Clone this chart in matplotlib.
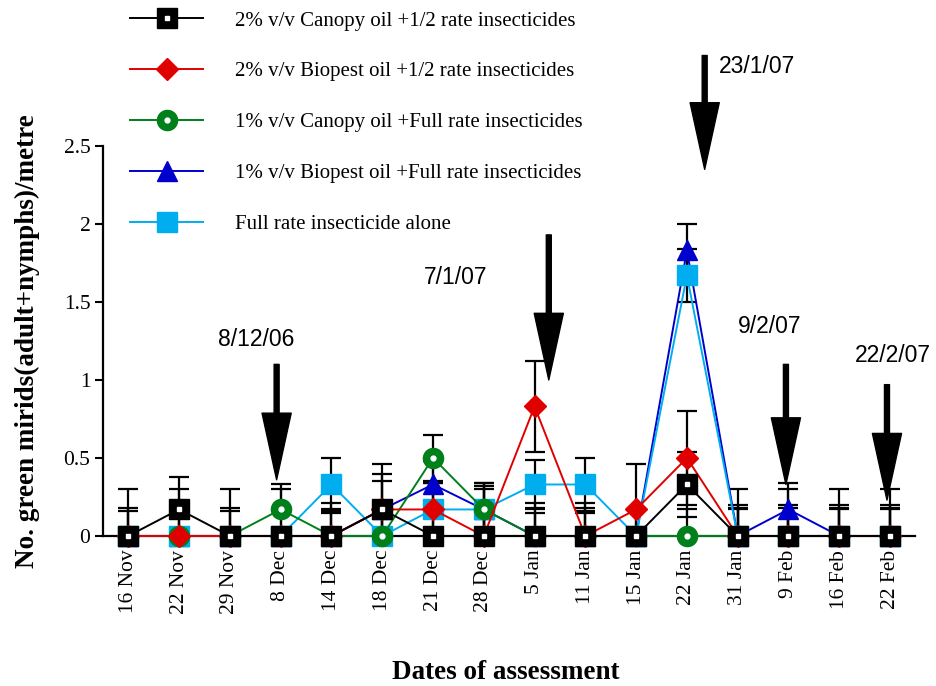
import matplotlib
matplotlib.use("Agg")
import matplotlib.pyplot as plt

# === Data ===
dates = ['16 Nov', '22 Nov', '29 Nov', '8 Dec', '14 Dec', '18 Dec', '21 Dec', '28 Dec',
         '5 Jan', '11 Jan', '15 Jan', '22 Jan', '31 Jan', '9 Feb', '16 Feb', '22 Feb']

canopy2 = [0, .17, 0, 0, 0, .17, 0, 0, 0, 0, 0, .33, 0, 0, 0, 0]
biopest2 = [0, 0, 0, 0, 0, .17, .17, 0, .83, 0, .17, .50, 0, 0, 0, 0]
canopy1 = [0, 0, 0, .17, 0, 0, .50, .17, 0, 0, 0, 0, 0, 0, 0, 0]
biopest1 = [0, 0, 0, 0, 0, .17, .33, .17, 0, 0, 0, 1.83, 0, .17, 0, 0]
full = [0, 0, 0, 0, .33, 0, .17, .17, .33, .33, 0, 1.67, 0, 0, 0, 0]

se_canopy2 = [.30, .21, .30, .30, .21, .29, .20, .30, .21, .21, .17, .21, .30, .30, .30, .30]
se_biopest2 = [.18, .30, .18, 0, .17, .18, .17, .17, .29, .18, .29, .30, .20, .20, .20, .20]
se_canopy1 = [.16, .17, .16, .16, .15, .15, .15, .17, .18, .15, 0, .17, .18, .18, .18, .18]
se_biopest1 = [0, 0, 0, 0, 0, .23, .15, .15, .15, 0, 0, .17, .17, .17, .17, .17]
se_full = [0, 0, 0, 0, .17, 0, .17, .17, .16, .17, 0, .17, 0, 0, 0, 0]

labels = ['2% v/v Canopy oil +1/2 rate insecticides',
          '2% v/v Biopest oil +1/2 rate insecticides',
          '1% v/v Canopy oil +Full rate insecticides',
          '1% v/v Biopest oil +Full rate insecticides',
          'Full rate insecticide alone']

# spray dates (arrow x in date-index units, arrow top / tip, label position)
spray_labels = ['8/12/06', '7/1/07', '23/1/07', '9/2/07', '22/2/07']
spray_x = [2.92, 8.28, 11.35, 12.95, 14.94]
spray_top = [1.10, 1.93, 3.08, 1.10, 0.97]
spray_tip = [0.36, 1.00, 2.35, 0.33, 0.23]
spray_tx = [2.52, 6.45, 12.38, 12.62, 15.06]
spray_ty = [1.26, 1.66, 3.01, 1.34, 1.16]

serif = 'Liberation Serif'
sans = 'Liberation Sans'

fig = plt.figure(figsize=(9.36, 6.86), dpi=100)
ax = fig.add_axes([0.110, 0.2187, 0.868, 0.5685])
x = list(range(len(dates)))

# error bars first (underneath)
for y, se in [(canopy2, se_canopy2), (biopest2, se_biopest2), (canopy1, se_canopy1),
              (biopest1, se_biopest1), (full, se_full)]:
    ax.errorbar(x, y, yerr=se, fmt='none', ecolor='black', elinewidth=1.6,
                capsize=7, capthick=1.6, zorder=2)

c_black = '#000000'; c_red = '#e00000'; c_green = '#00801a'
c_blue = '#0000cc'; c_cyan = '#00aeef'

h_blue, = ax.plot(x, biopest1, color=c_blue, marker='^', ms=14.5, mec=c_blue,
                  lw=1.4, zorder=3, clip_on=False)
h_cyan, = ax.plot(x, full, color=c_cyan, marker='s', ms=14, mec=c_cyan,
                  lw=1.4, zorder=4, clip_on=False)
h_green, = ax.plot(x, canopy1, color=c_green, marker='o', ms=14.5, mec=c_green,
                   lw=1.4, zorder=5, clip_on=False)
d_green, = ax.plot(x, canopy1, ls='none', marker='o', ms=3.5, mfc='white', mec='white',
                   zorder=5.5, clip_on=False)
h_red, = ax.plot(x, biopest2, color=c_red, marker='D', ms=11.5, mec=c_red,
                 lw=1.4, zorder=6, clip_on=False)
h_black, = ax.plot(x, canopy2, color=c_black, marker='s', ms=14, mec=c_black,
                   lw=1.4, zorder=7, clip_on=False)
d_black, = ax.plot(x, canopy2, ls='none', marker='s', ms=3.5, mfc='white', mec='white',
                   zorder=7.5, clip_on=False)

# arrows marking spray dates
for lab, sx, top, tip, tx, ty in zip(spray_labels, spray_x, spray_top, spray_tip,
                                     spray_tx, spray_ty):
    ax.annotate('', xy=(sx, tip), xytext=(sx, top), annotation_clip=False,
                arrowprops=dict(facecolor='black', edgecolor='black', width=3.6,
                                headwidth=21, headlength=48), zorder=9)
    ax.text(tx, ty, lab, ha='center', va='center', fontsize=16.5, family=sans,
            clip_on=False)

ax.set_xlim(-0.5, 15.5)
ax.set_ylim(0, 2.5)
ax.set_yticks([0, 0.5, 1, 1.5, 2, 2.5])
ax.set_yticklabels(['0', '0.5', '1', '1.5', '2', '2.5'], family=serif, fontsize=15.5)
ax.set_xticks(x)
ax.set_xticklabels(dates, rotation=90, family=serif, fontsize=15.5)
ax.tick_params(axis='x', length=0, pad=10)
ax.tick_params(axis='y', length=6, width=1.5, direction='out', pad=3)
for s in ['top', 'right']:
    ax.spines[s].set_visible(False)
for s in ['left', 'bottom']:
    ax.spines[s].set_linewidth(1.6)

ax.set_ylabel('No. green mirids(adult+nymphs)/metre', family=serif, fontsize=19.5,
              fontweight='bold')
ax.yaxis.set_label_coords(-0.078, 0.5)
fig.text(0.54, 0.02, 'Dates of assessment', family=serif, fontsize=19.5,
         fontweight='bold', ha='center', va='center')

handles = [(h_black, d_black), h_red, (h_green, d_green), h_blue, h_cyan]
fig.legend(handles, labels, loc='upper left', bbox_to_anchor=(0.139, 0.984),
           frameon=False, prop=dict(family=serif, size=15), handlelength=3.5,
           handletextpad=1.55, labelspacing=1.5, borderpad=0, borderaxespad=0)

fig.savefig('out.png', dpi=100)
